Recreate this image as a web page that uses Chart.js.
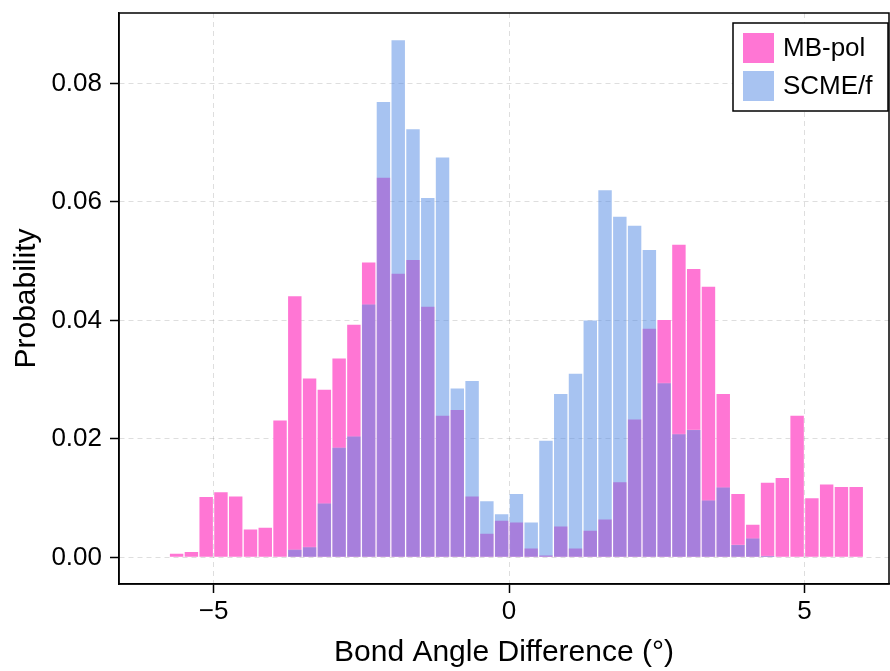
<!DOCTYPE html>
<html>
<head>
<meta charset="utf-8">
<script src="https://cdn.jsdelivr.net/npm/chart.js@4.4.0/dist/chart.umd.min.js"></script>
<style>
html,body{margin:0;padding:0;background:#fff;}
#wrap{width:890px;height:671px;}
</style>
</head>
<body>
<div id="wrap"><canvas id="c" width="890" height="671"></canvas></div>
<script>
// ---- data (histogram bin centres, bin width 0.25 degrees) ----
const mbpolCenters = [-5.625,-5.375,-5.125,-4.875,-4.625,-4.375,-4.125,-3.875,-3.625,-3.375,-3.125,-2.875,-2.625,-2.375,-2.125,-1.875,-1.625,-1.375,-1.125,-0.875,-0.625,-0.375,-0.125,0.125,0.375,0.625,0.875,1.125,1.375,1.625,1.875,2.125,2.375,2.625,2.875,3.125,3.375,3.625,3.875,4.125,4.375,4.625,4.875,5.125,5.375,5.625,5.875];
const mbpolValues = [0.0007,0.0010,0.0103,0.0111,0.0104,0.0048,0.0051,0.0232,0.0442,0.0303,0.0284,0.0337,0.0394,0.0499,0.0642,0.0480,0.0503,0.0424,0.0240,0.0250,0.0104,0.0041,0.0063,0.0060,0.0016,0.0004,0.0053,0.0016,0.0046,0.0065,0.0128,0.0234,0.0387,0.0402,0.0529,0.0488,0.0458,0.0277,0.0108,0.0056,0.0127,0.0135,0.0240,0.0101,0.0124,0.0120,0.0120];
const scmeCenters = [-3.625,-3.375,-3.125,-2.875,-2.625,-2.375,-2.125,-1.875,-1.625,-1.375,-1.125,-0.875,-0.625,-0.375,-0.125,0.125,0.375,0.625,0.875,1.125,1.375,1.625,1.875,2.125,2.375,2.625,2.875,3.125,3.375,3.625,3.875,4.125,4.375];
const scmeValues = [0.0014,0.0018,0.0092,0.0186,0.0205,0.0428,0.0770,0.0874,0.0724,0.0608,0.0676,0.0286,0.0299,0.0096,0.0074,0.0108,0.0060,0.0198,0.0277,0.0311,0.0401,0.0621,0.0576,0.0561,0.0520,0.0295,0.0209,0.0216,0.0097,0.0119,0.0022,0.0033,0.0003];
const seriesNames = ['MB-pol','SCME/f'];
const xTicks = [-5,0,5];
const yTicks = [0,0.02,0.04,0.06,0.08];
const xTitle = 'Bond Angle Difference (°)';
const yTitle = 'Probability';

const FONT = '"Liberation Sans", Arial, Helvetica, sans-serif';
const PINK = '#ff76d4';
const BLUE = 'rgba(80,135,228,0.5)';

function pts(xs, ys){ return xs.map((x,i)=>({x:x, y:ys[i]})); }

const framePlugin = {
  id:'frame',
  afterDraw(chart){
    const {ctx, chartArea:a} = chart;
    ctx.save();
    ctx.strokeStyle = '#000';
    ctx.lineWidth = 1.5;
    ctx.strokeRect(a.left, a.top, a.right - a.left, a.bottom - a.top);
    // legend
    const w = 155, h = 88;
    const lx = a.right - 1 - w, ly = a.top + 10;
    ctx.fillStyle = '#fff';
    ctx.fillRect(lx, ly, w, h);
    ctx.lineWidth = 1.5;
    ctx.strokeRect(lx, ly, w, h);
    const items = chart.data.datasets;
    ctx.font = '26px ' + FONT;
    ctx.textBaseline = 'middle';
    ctx.textAlign = 'left';
    items.forEach((ds, i) => {
      const sy = ly + 10 + i * 38;
      ctx.fillStyle = ds.legendColor;
      ctx.fillRect(lx + 10, sy, 31, 30);
      ctx.fillStyle = '#000';
      ctx.fillText(ds.label, lx + 50, sy + 16);
    });
    ctx.restore();
  }
};

new Chart(document.getElementById('c'), {
  type: 'bar',
  data: {
    datasets: [
      { label: seriesNames[0], data: pts(mbpolCenters, mbpolValues), backgroundColor: PINK,
        borderColor: 'rgba(255,255,255,0.12)', borderWidth: 1, order: 1, legendColor: PINK },
      { label: seriesNames[1], data: pts(scmeCenters, scmeValues), backgroundColor: BLUE,
        borderColor: 'rgba(255,255,255,0.12)', borderWidth: 1, order: 0, legendColor: 'rgb(168,195,241)' }
    ]
  },
  options: {
    responsive: false,
    animation: false,
    devicePixelRatio: 1,
    layout: { padding: { top: 13, right: 1, left: 0, bottom: 0 } },
    datasets: { bar: { grouped: false, barPercentage: 1, categoryPercentage: 1 } },
    plugins: { legend: { display: false }, tooltip: { enabled: false } },
    scales: {
      x: {
        type: 'linear', offset: false, min: -6.6, max: 6.43,
        afterBuildTicks: s => { s.ticks = xTicks.map(v => ({value: v})); },
        afterFit: s => { s.height = 87; s.paddingLeft = 0; s.paddingRight = 0; },
        ticks: { font: { family: FONT, size: 26 }, color: '#000', padding: 3,
          callback: v => (v < 0 ? '\u2212' + Math.abs(v) : String(v)) },
        grid: { offset: false, color: 'rgba(0,0,0,0.13)', tickColor: '#000', tickLength: 9, tickWidth: 1.5, tickBorderDash: [], lineWidth: 1 },
        border: { color: '#000', width: 1.5, dash: [5,4] },
        title: { display: true, text: xTitle, color: '#000', font: { family: FONT, size: 30 }, padding: { top: 0, bottom: 0 } }
      },
      y: {
        min: -0.0045, max: 0.0919,
        afterBuildTicks: s => { s.ticks = yTicks.map(v => ({value: v})); },
        afterFit: s => { s.width = 119; s.paddingTop = 0; s.paddingBottom = 0; },
        ticks: { font: { family: FONT, size: 26 }, color: '#000', padding: 8,
          callback: v => Number(v).toFixed(2) },
        grid: { color: 'rgba(0,0,0,0.13)', tickColor: '#000', tickLength: 9, tickWidth: 1.5, tickBorderDash: [], lineWidth: 1 },
        border: { color: '#000', width: 1.5, dash: [5,4] },
        title: { display: true, text: yTitle, color: '#000', font: { family: FONT, size: 30 }, padding: { top: 9, bottom: 0 } }
      }
    }
  },
  plugins: [framePlugin]
});
</script>
</body>
</html>
